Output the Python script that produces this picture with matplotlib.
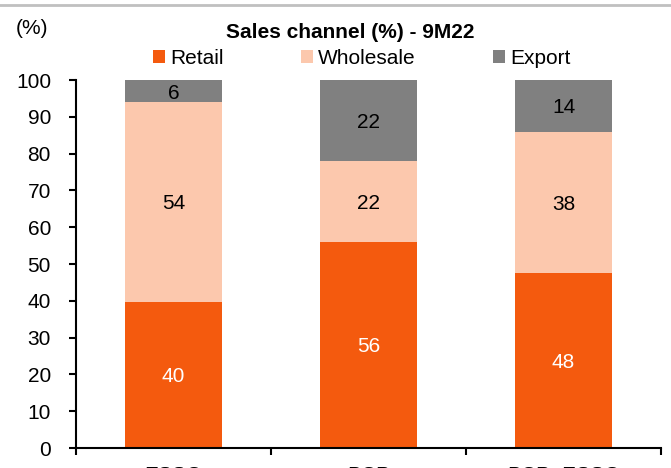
import matplotlib
matplotlib.use("Agg")
import matplotlib.pyplot as plt
from matplotlib.lines import Line2D
import numpy as np

plt.rcParams['font.family'] = ['Liberation Sans', 'DejaVu Sans']

categories = ["ESSO", "BCP", "BCP+ESSO"]
retail = [39.7, 56.0, 47.6]
wholesale = [54.3, 22.0, 38.4]
export = [6.0, 22.0, 14.0]
yticks = [0, 10, 20, 30, 40, 50, 60, 70, 80, 90, 100]

c_retail = "#F45A0E"
c_whole = "#FCC8AD"
c_export = "#808080"
FS = 15

fig = plt.figure(figsize=(6.71, 4.68), dpi=100)
ax = fig.add_axes([76/671, 20/468, (661-76)/671, (448-80)/468])

x = np.arange(len(categories))
w = 0.5
retail_a = np.array(retail)
whole_a = np.array(wholesale)
export_a = np.array(export)

b1 = ax.bar(x, retail_a, w, color=c_retail, label="Retail")
b2 = ax.bar(x, whole_a, w, bottom=retail_a, color=c_whole, label="Wholesale")
b3 = ax.bar(x, export_a, w, bottom=retail_a + whole_a, color=c_export, label="Export")

for i in range(len(categories)):
    ax.text(x[i], retail_a[i] / 2, f"{retail_a[i]:.0f}", ha="center", va="center_baseline",
            color="white", fontsize=FS)
    ax.text(x[i], retail_a[i] + whole_a[i] / 2, f"{whole_a[i]:.0f}", ha="center",
            va="center_baseline", color="black", fontsize=FS)
    ax.text(x[i], retail_a[i] + whole_a[i] + export_a[i] / 2, f"{export_a[i]:.0f}",
            ha="center", va="center_baseline", color="black", fontsize=FS)

ax.set_xlim(-0.5, 2.5)
ax.set_ylim(0, 100)
ax.set_yticks(yticks)
ax.tick_params(axis="y", labelsize=FS, length=5, width=1.5, direction="out", pad=13)
ax.set_xticks([-0.5, 0.5, 1.5, 2.5])
ax.set_xticklabels([])
ax.tick_params(axis="x", length=5, width=1.5, direction="out")
ax.set_xticks(x, minor=True)
ax.set_xticklabels(categories, minor=True, fontsize=FS)
ax.tick_params(axis="x", which="minor", length=0, pad=13)
for s in ["top", "right"]:
    ax.spines[s].set_visible(False)
ax.spines["left"].set_linewidth(1.5)
ax.spines["bottom"].set_linewidth(1.5)

fig.text(350/671, 1 - 30/468, "Sales channel (%) - 9M22", ha="center", va="center_baseline",
         fontsize=FS, fontweight="bold")
fig.text(16/671, 1 - 27/468, "(%)", ha="left", va="center_baseline", fontsize=FS)

fig.legend(handles=[b1, b2, b3], labels=["Retail", "Wholesale", "Export"],
           loc="center left", bbox_to_anchor=(153/671, 1 - 58/468), ncol=3, frameon=False,
           fontsize=FS, handlelength=0.58, handleheight=0.6, handletextpad=0.25,
           columnspacing=3.7, borderaxespad=0, borderpad=0)

fig.add_artist(Line2D([0, 1], [1 - 5/468, 1 - 5/468], color="#C0C0C0", linewidth=2,
                      transform=fig.transFigure))

fig.savefig("out.png", dpi=100)
